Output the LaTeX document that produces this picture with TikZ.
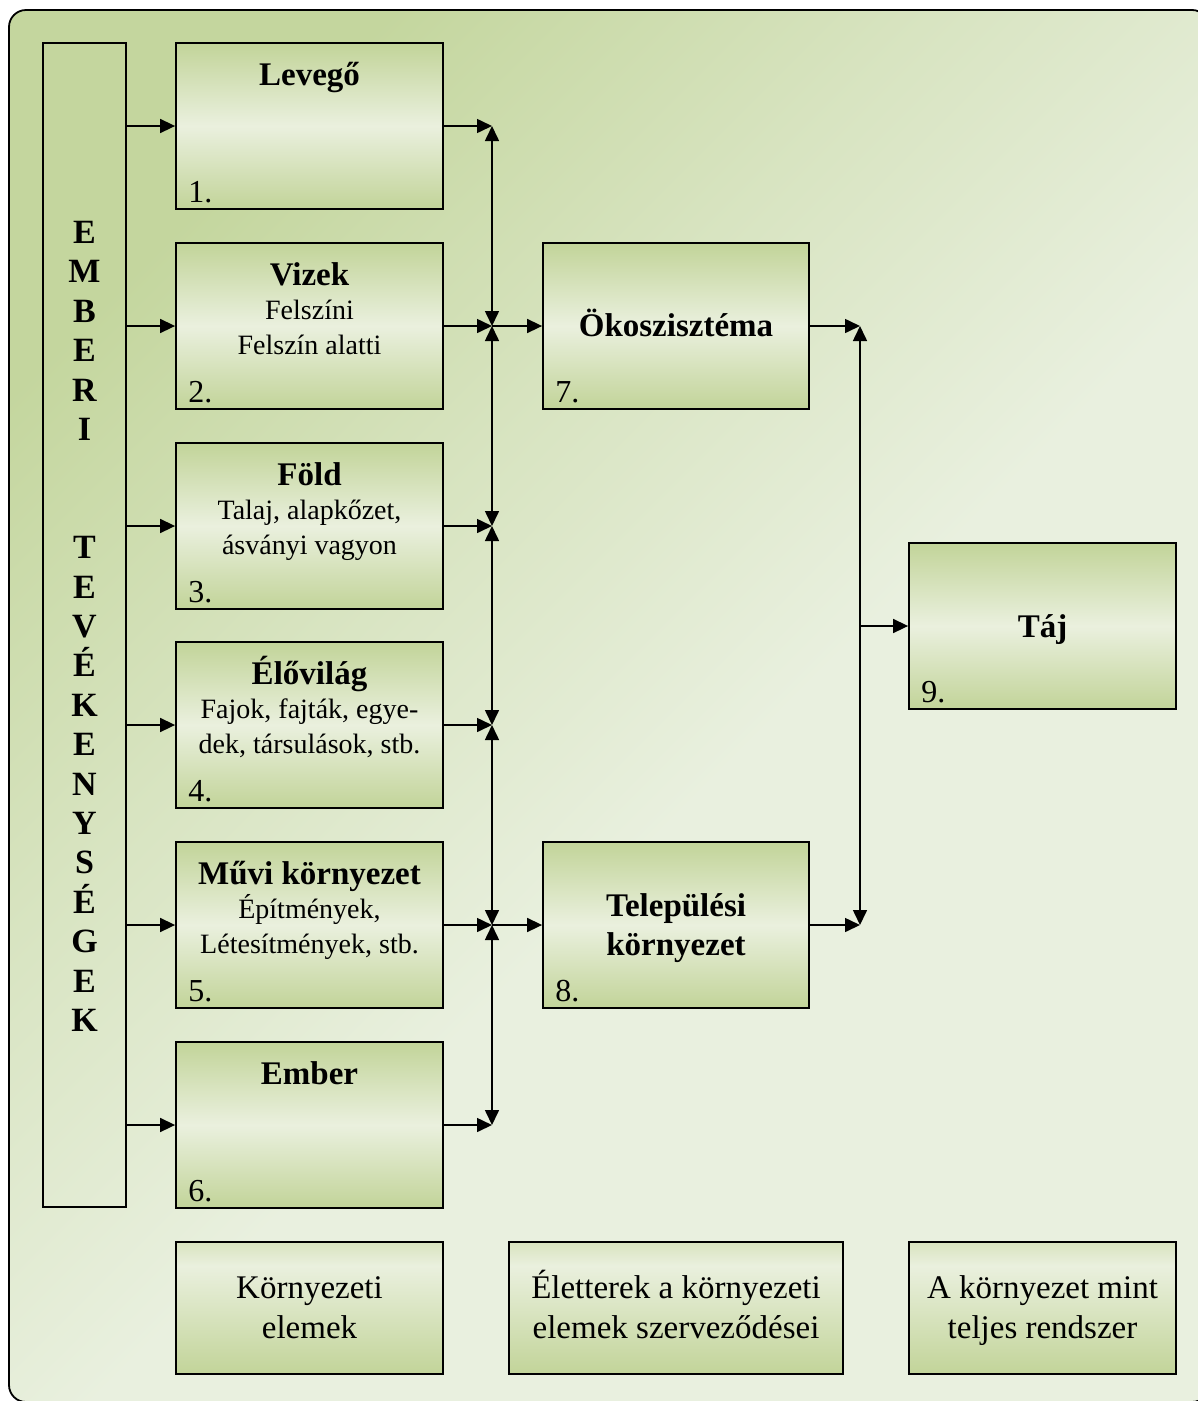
\documentclass[tikz,border=0pt]{standalone}
\usepackage{fontspec}
\setmainfont{Liberation Serif}
\usetikzlibrary{arrows.meta,calc}

\definecolor{bgdark}{HTML}{C4D69E}
\definecolor{bgmid}{HTML}{D8E4C1}
\definecolor{bglight}{HTML}{E9F0DF}
\definecolor{boxgreen}{HTML}{C2D499}
\definecolor{boxlight}{HTML}{EAF0DE}

% soft background: green in the upper left, pale towards the lower right
\pgfdeclareverticalshading{bgshade}{100bp}{color(0bp)=(bglight); color(25bp)=(bglight); color(45bp)=(bglight); color(60bp)=(bgmid); color(75bp)=(bgdark); color(100bp)=(bgdark)}
% bottom row boxes: pale near the top, green at the bottom
\pgfdeclareverticalshading{footshade}{100bp}{color(0bp)=(boxgreen); color(25bp)=(boxgreen); color(66bp)=(boxlight); color(75bp)=(boxgreen!45!boxlight); color(100bp)=(boxgreen!45!boxlight)}

\tikzset{
  bgpanel/.style={draw=black, line width=1.8pt, rounded corners=17pt, shading=bgshade, shading angle=45},
  elem/.style={draw=black, line width=1.8pt, top color=boxgreen, bottom color=boxgreen, middle color=boxlight,
               minimum width=267pt, minimum height=166pt, inner sep=0pt},
  foot/.style={draw=black, line width=1.8pt, shading=footshade, minimum height=132pt, inner sep=0pt},
  sidebar/.style={draw=black, line width=1.8pt, minimum width=83pt, minimum height=1164pt, inner sep=0pt},
  ttl/.style={font=\fontsize{33}{38}\selectfont\bfseries, inner sep=0pt, anchor=base},
  body/.style={font=\fontsize{28}{33}\selectfont, inner sep=0pt, anchor=base},
  foottxt/.style={font=\fontsize{33}{38}\selectfont, inner sep=0pt, anchor=base},
  num/.style={font=\fontsize{32}{36}\selectfont, inner sep=0pt, anchor=base west},
  letter/.style={font=\fontsize{34}{38}\selectfont\bfseries, inner sep=0pt, anchor=base},
  tip/.tip={Triangle[length=15pt,width=14pt]},
  arr/.style={line width=1.6pt, -tip},
  dbl/.style={line width=1.6pt, tip-tip},
}

% title and up to two body lines inside an element box
\newcommand\elemtext[4]{%
  \node[ttl]  (#1t) at ([yshift=-43pt]#1.north) {#2};
  \node[body] (#1a) at ([yshift=-77.5pt]#1.north) {#3};
  \node[body] (#1b) at ([yshift=-112.5pt]#1.north) {#4};}
\newcommand\elemnum[2]{%
  \node[num] (#1n) at ([xshift=13pt,yshift=7pt]#1.south west) {#2};}

\begin{document}
\begin{tikzpicture}[x=1pt, y=-1pt]
  \useasboundingbox (0,0) rectangle (1198,1401);
  \clip (0,0) rectangle (1198,1401);
  \path[bgpanel] (9,10) rectangle (1209,1402);

  % side bar with vertical caption
  \node[sidebar] (L) at (84.5,625) {};
  \foreach \ch [count=\i] in {E,M,B,E,R,I,,,T,E,V,É,K,E,N,Y,S,É,G,E,K}
    \node[letter] (l\i) at (84.5,{243.5+(\i-1)*39.4}) {\ch};

  % environmental elements
  \node[elem] (b1) at (309.5,126) {};
  \node[elem] (b2) at (309.5,326) {};
  \node[elem] (b3) at (309.5,526) {};
  \node[elem] (b4) at (309.5,725) {};
  \node[elem] (b5) at (309.5,925) {};
  \node[elem] (b6) at (309.5,1125) {};
  \elemtext{b1}{Levegő}{}{}
  \elemtext{b2}{Vizek}{Felszíni}{Felszín alatti}
  \elemtext{b3}{Föld}{Talaj, alapkőzet,}{ásványi vagyon}
  \elemtext{b4}{Élővilág}{Fajok, fajták, egye-}{dek, társulások, stb.}
  \elemtext{b5}{Művi környezet}{Építmények,}{Létesítmények, stb.}
  \elemtext{b6}{Ember}{}{}
  \elemnum{b1}{1.}
  \elemnum{b2}{2.}
  \elemnum{b3}{3.}
  \elemnum{b4}{4.}
  \elemnum{b5}{5.}
  \elemnum{b6}{6.}

  % habitats and landscape
  \node[elem, minimum width=266pt] (b7) at (676,326) {};
  \node[elem, minimum width=266pt] (b8) at (676,925) {};
  \node[elem] (b9) at (1042.5,626) {};
  \node[ttl] (b7t) at (b7.center |- 0,336) {Ökoszisztéma};
  \node[ttl] (b8t) at (b8.center |- 0,916) {Települési};
  \node[ttl] (b8u) at (b8.center |- 0,955) {környezet};
  \node[ttl] (b9t) at (b9.center |- 0,637) {Táj};
  \elemnum{b7}{7.}
  \elemnum{b8}{8.}
  \elemnum{b9}{9.}

  % bottom legend row
  \node[foot, minimum width=267pt] (f1) at (309.5,1308) {};
  \node[foot, minimum width=334pt] (f2) at (676,1308) {};
  \node[foot, minimum width=267pt] (f3) at (1042.5,1308) {};
  \node[foottxt] (f1a) at (f1.center |- 0,1298) {Környezeti};
  \node[foottxt] (f1b) at (f1.center |- 0,1338) {elemek};
  \node[foottxt] (f2a) at (f2.center |- 0,1298) {Életterek a környezeti};
  \node[foottxt] (f2b) at (f2.center |- 0,1338) {elemek szerveződései};
  \node[foottxt] (f3a) at (f3.center |- 0,1298) {A környezet mint};
  \node[foottxt] (f3b) at (f3.center |- 0,1338) {teljes rendszer};

  % connectors
  \coordinate (jx) at (492,0);
  \coordinate (kx) at (860,0);
  \foreach \b in {b1,b2,b3,b4,b5,b6} {
    \draw[arr] (\b.west -| L.east) -- (\b.west);
    \coordinate (j\b) at (\b.east -| jx);
    \draw[arr] (\b.east) -- (j\b);
  }
  \draw[dbl] (jb1) -- (jb2);
  \draw[dbl] (jb2) -- (jb3);
  \draw[dbl] (jb3) -- (jb4);
  \draw[dbl] (jb4) -- (jb5);
  \draw[dbl] (jb5) -- (jb6);
  \draw[arr] (jb2) -- (b7.west);
  \draw[arr] (jb5) -- (b8.west);

  \coordinate (k1) at (b7.east -| kx);
  \coordinate (k2) at (b8.east -| kx);
  \draw[arr] (b7.east) -- (k1);
  \draw[arr] (b8.east) -- (k2);
  \draw[dbl] (k1) -- (k2);
  \draw[arr] (b9.west -| kx) -- (b9.west);
\end{tikzpicture}
\end{document}
